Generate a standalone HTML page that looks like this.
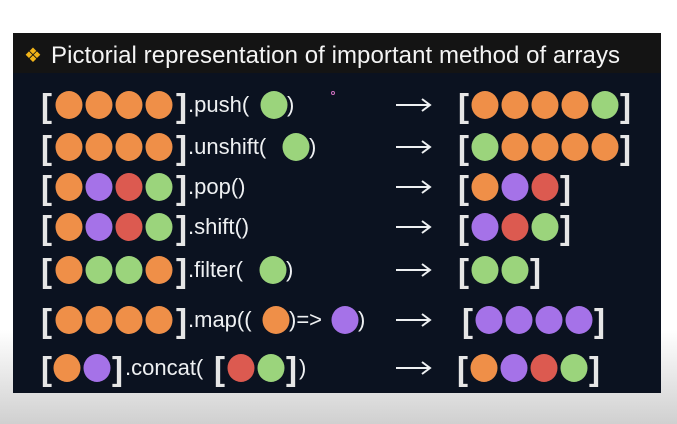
<!DOCTYPE html>
<html><head><meta charset="utf-8"><style>
html,body{margin:0;padding:0;width:677px;height:424px;overflow:hidden;background:linear-gradient(#fff 0,#fff 330px,#d0d0d0 424px);}
svg{position:absolute;left:0;top:0}
text{font-family:"Liberation Sans",sans-serif;fill:#eef0f2}
.b{font-size:33px;fill:#e6e6e6;font-weight:bold}
.m{font-size:22px}
</style></head><body>
<svg width="677" height="424" viewBox="0 0 677 424">
<rect x="13" y="33" width="648" height="360" fill="#0b1220"/>
<rect x="13" y="33" width="648" height="40" fill="#141414"/>
<text x="24" y="62" style="font-size:20px;fill:#f2b418">❖</text>
<text x="51" y="63" style="font-size:24px;fill:#f4f4f4" textLength="569">Pictorial representation of important method of arrays</text>
<circle cx="333" cy="93" r="1.5" fill="none" stroke="#d070c0"/>
<defs>
<ellipse id="o" rx="13.5" ry="14" fill="#ef8f48"/>
<ellipse id="g" rx="13.5" ry="14" fill="#9bd47c"/>
<ellipse id="p" rx="13.5" ry="14" fill="#a572e8"/>
<ellipse id="r" rx="13.5" ry="14" fill="#dc5a50"/>
<path id="a" d="M0 0 H34 M26 -6 L34 0 L26 6" stroke="#eef0f2" stroke-width="2" fill="none"/>
</defs>
<use href="#a" x="396" y="105"/><use href="#a" x="396" y="147"/><use href="#a" x="396" y="187"/><use href="#a" x="396" y="227"/><use href="#a" x="396" y="270"/><use href="#a" x="396" y="320"/><use href="#a" x="396" y="368"/>
<g transform="translate(0,105)">
<text class="b" x="41" y="12">[</text>
<use href="#o" x="69"/><use href="#o" x="99"/><use href="#o" x="129"/><use href="#o" x="159"/>
<text class="b" x="176" y="12">]</text>
<text class="m" x="188" y="7">.push(</text>
<use href="#g" x="274"/><text class="m" x="287" y="7">)</text>
<text class="b" x="458" y="12">[</text>
<use href="#o" x="485"/><use href="#o" x="515"/><use href="#o" x="545"/><use href="#o" x="575"/><use href="#g" x="605"/>
<text class="b" x="620" y="12">]</text>
</g>
<g transform="translate(0,147)">
<text class="b" x="41" y="12">[</text>
<use href="#o" x="69"/><use href="#o" x="99"/><use href="#o" x="129"/><use href="#o" x="159"/>
<text class="b" x="176" y="12">]</text>
<text class="m" x="188" y="7">.unshift(</text>
<use href="#g" x="296"/><text class="m" x="309" y="7">)</text>
<text class="b" x="458" y="12">[</text>
<use href="#g" x="485"/><use href="#o" x="515"/><use href="#o" x="545"/><use href="#o" x="575"/><use href="#o" x="605"/>
<text class="b" x="620" y="12">]</text>
</g>
<g transform="translate(0,187)">
<text class="b" x="41" y="12">[</text>
<use href="#o" x="69"/><use href="#p" x="99"/><use href="#r" x="129"/><use href="#g" x="159"/>
<text class="b" x="176" y="12">]</text>
<text class="m" x="188" y="7">.pop()</text>
<text class="b" x="458" y="12">[</text>
<use href="#o" x="485"/><use href="#p" x="515"/><use href="#r" x="545"/>
<text class="b" x="560" y="12">]</text>
</g>
<g transform="translate(0,227)">
<text class="b" x="41" y="12">[</text>
<use href="#o" x="69"/><use href="#p" x="99"/><use href="#r" x="129"/><use href="#g" x="159"/>
<text class="b" x="176" y="12">]</text>
<text class="m" x="188" y="7">.shift()</text>
<text class="b" x="458" y="12">[</text>
<use href="#p" x="485"/><use href="#r" x="515"/><use href="#g" x="545"/>
<text class="b" x="560" y="12">]</text>
</g>
<g transform="translate(0,270)">
<text class="b" x="41" y="12">[</text>
<use href="#o" x="69"/><use href="#g" x="99"/><use href="#g" x="129"/><use href="#o" x="159"/>
<text class="b" x="176" y="12">]</text>
<text class="m" x="188" y="7">.filter(</text>
<use href="#g" x="273"/><text class="m" x="286" y="7">)</text>
<text class="b" x="458" y="12">[</text>
<use href="#g" x="485"/><use href="#g" x="515"/>
<text class="b" x="530" y="12">]</text>
</g>
<g transform="translate(0,320)">
<text class="b" x="41" y="12">[</text>
<use href="#o" x="69"/><use href="#o" x="99"/><use href="#o" x="129"/><use href="#o" x="159"/>
<text class="b" x="176" y="12">]</text>
<text class="m" x="188" y="7">.map((</text>
<use href="#o" x="276"/><text class="m" x="289" y="7">)=&gt;</text>
<use href="#p" x="345"/><text class="m" x="358" y="7">)</text>
<text class="b" x="462" y="12">[</text>
<use href="#p" x="489"/><use href="#p" x="519"/><use href="#p" x="549"/><use href="#p" x="579"/>
<text class="b" x="594" y="12">]</text>
</g>
<g transform="translate(0,368)">
<text class="b" x="41" y="12">[</text>
<use href="#o" x="67"/><use href="#p" x="97"/>
<text class="b" x="112" y="12">]</text>
<text class="m" x="125" y="7">.concat(</text>
<text class="b" x="214" y="12">[</text>
<use href="#r" x="241"/><use href="#g" x="271"/>
<text class="b" x="286" y="12">]</text><text class="m" x="299" y="7">)</text>
<text class="b" x="457" y="12">[</text>
<use href="#o" x="484"/><use href="#p" x="514"/><use href="#r" x="544"/><use href="#g" x="574"/>
<text class="b" x="589" y="12">]</text>
</g>
</svg>
</body></html>
